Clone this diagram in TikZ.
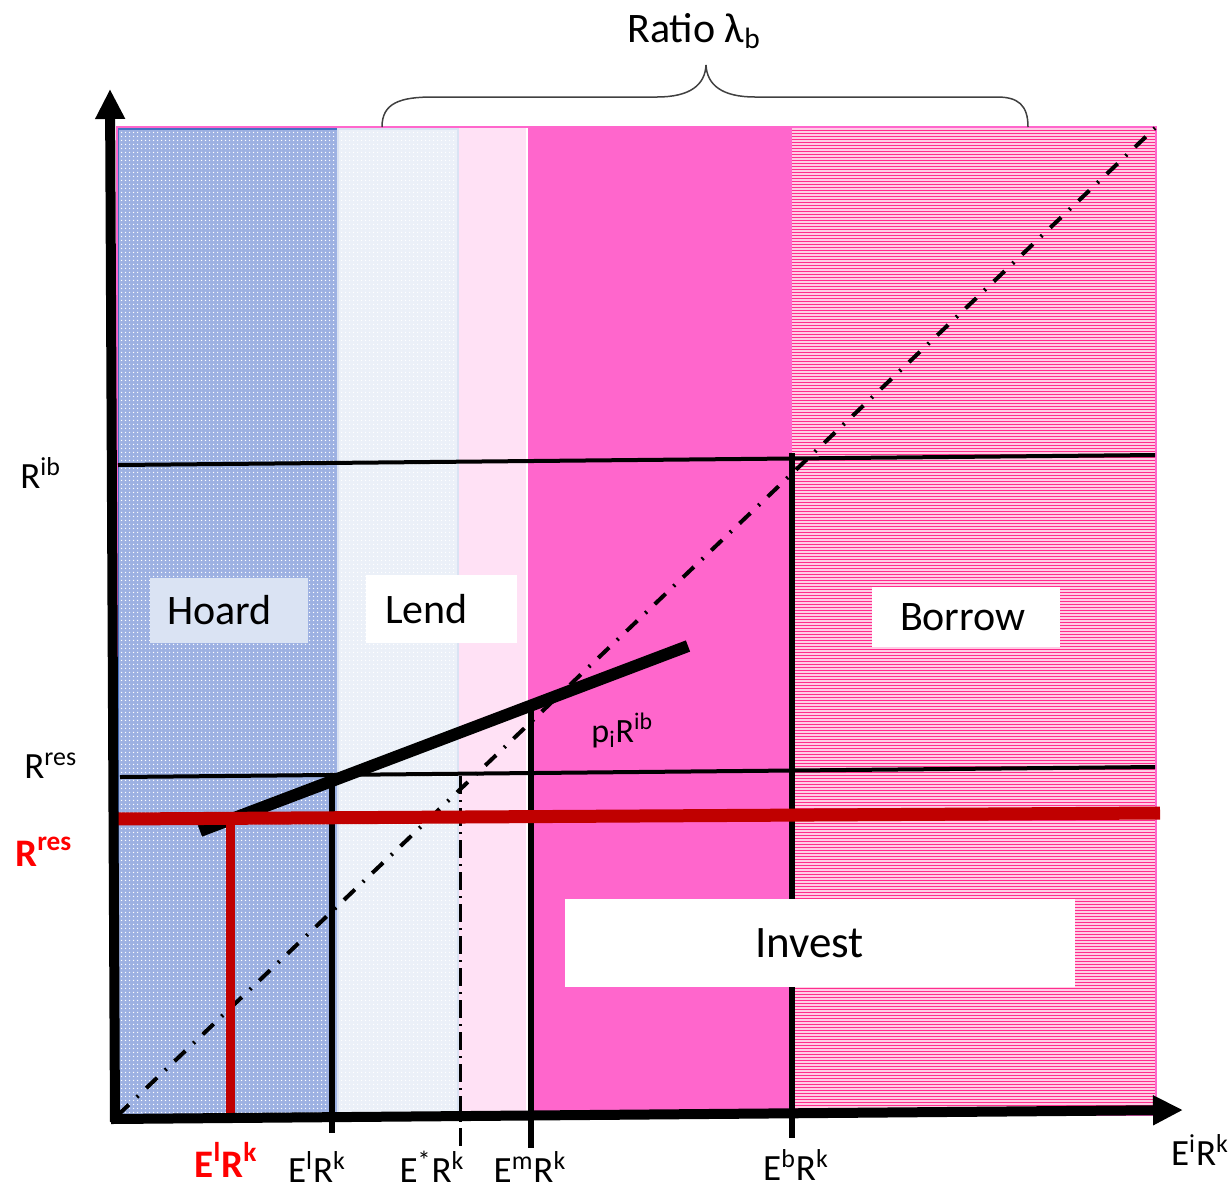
\documentclass[tikz,border=0pt]{standalone}
\usepackage{fontspec}
\setmainfont{Carlito}
\usepackage{tikz}
\usetikzlibrary{arrows.meta, patterns}

\definecolor{hoardblue}{HTML}{9DB1E2}
\definecolor{hoardline}{HTML}{4472C4}
\definecolor{lendblue}{HTML}{EBF0F8}
\definecolor{lendline}{HTML}{DAE3F3}
\definecolor{tagblue}{HTML}{DAE3F3}
\definecolor{palepink}{HTML}{FFE1F5}
\definecolor{hotpink}{HTML}{FF66CC}
\definecolor{stripebg}{HTML}{FFCCE5}
\definecolor{stripe}{HTML}{FF2D8C}
\definecolor{darkred}{HTML}{C00000}
\definecolor{bracegray}{HTML}{404040}

\pgfdeclarepatternformonly{finedots}{\pgfpointorigin}{\pgfpoint{2pt}{2pt}}{\pgfpoint{2pt}{2pt}}%
  {\pgfpathcircle{\pgfpoint{1pt}{1pt}}{0.45pt}\pgfusepath{fill}}

\begin{document}
\begin{tikzpicture}[
  x=0.5pt, y=-0.5pt,
  lbl/.style={font=\fontsize{18.5}{22}\selectfont, inner sep=0pt},
  redlbl/.style={inner sep=0pt, text=red, font=\fontsize{19.5}{23}\selectfont\bfseries},
  tagbox/.style={font=\fontsize{21}{25}\selectfont, inner ysep=0pt, align=left},
  axis/.style={line width=5pt, -{Triangle[length=15pt, width=14pt]}},
  level/.style={line width=2pt},
  tick/.style={line width=3pt}
]
\useasboundingbox (0,0) rectangle (1230,1189);

% regions
\fill[hoardblue] (118,128) rectangle (337,1115);
\fill[pattern=finedots, pattern color=white] (118,128) rectangle (337,1115);
\draw[hoardline, line width=1pt] (118,1115) -- (118,129) -- (337,129);
\fill[lendblue] (338,128) rectangle (459,1115);
\fill[pattern=finedots, pattern color=white] (338,128) rectangle (459,1115);
\draw[lendline, line width=1pt] (338,129) rectangle (458,1115);
\fill[palepink] (459,128) rectangle (526,1115);
\fill[hotpink] (528,127) rectangle (792,1115);
\fill[stripebg] (792,127) rectangle (1155,1115);
\foreach \yy in {130,133,...,1112}
  \draw[stripe, line width=0.5pt] (792,\yy) -- (1155,\yy);
\draw[hotpink, line width=1pt] (117,127) rectangle (1156,1115);

% brace and ratio
\draw[bracegray, line width=0.75pt] (382,127) .. controls (382,103) and (400,97) .. (433,97) -- (657,97)
  .. controls (690,97) and (705,85) .. (706,65) .. controls (707,85) and (722,97) .. (755,97) -- (997,97)
  .. controls (1018,97) and (1028,105) .. (1028,127);
\node[font=\fontsize{21}{25}\selectfont, inner sep=0pt, anchor=base] (ratio) at (694,42) {Ratio λ\textsubscript{b}};

% 45 degree line
\draw[line width=2pt, dash pattern=on 7.5pt off 5.5pt on 1pt off 5.5pt] (118,1115) -- (1155,128);

% rates
\draw[level] (118,465) -- (1155,455);
\draw[level] (120,777) -- (1155,767);
\draw[line width=6pt] (200,831) -- (688,646);

% thresholds
\draw[tick] (332,779) -- (332,1133);
\draw[line width=1.5pt, dash pattern=on 9pt off 3pt on 1pt off 3pt] (460,776) -- (460,1150);
\draw[tick] (531,706) -- (531,1148);
\draw[tick] (792,453) -- (792,1138);

% new reserve rate
\draw[darkred, line width=6.5pt] (114,819) -- (1160,813);
\draw[darkred, line width=4.5pt] (230,819) -- (230,1116);

% region tags
\node[tagbox, fill=tagblue, text width=62pt, inner xsep=8.5pt, minimum height=32.5pt] (hoard) at (229,610.5) {Hoard};
\node[tagbox, fill=white, text width=56.5pt, inner xsep=9.5pt, minimum height=34pt] (lend) at (441.5,609) {Lend};
\node[tagbox, fill=white, text width=66pt, inner xsep=14pt, minimum height=30pt] (borrow) at (966,617) {Borrow};
\node[tagbox, fill=white, font=\fontsize{22.5}{27}\selectfont, text width=65pt, inner xsep=95pt, minimum height=44pt] (invest) at (820,943) {Invest};
\node[lbl, font=\fontsize{17}{20}\selectfont, anchor=base west] (pirib) at (591,742) {p\textsubscript{i}R\textsuperscript{ib}};

% axes
\draw[axis] (115,1122) -- (110,89);
\draw[axis] (111,1119) -- (1183,1110);

% axis labels
\node[lbl, anchor=base west] (rib) at (20,488) {R\textsuperscript{ib}};
\node[lbl, anchor=base west] (rres) at (24,778) {R\textsuperscript{res}};
\node[redlbl, anchor=base west] (rresnew) at (15,866) {R\textsuperscript{res}};
\node[redlbl, anchor=base] (elnew) at (226,1177) {E\textsuperscript{l}R\textsuperscript{k}};
\node[lbl, anchor=base] (el) at (317,1182) {E\textsuperscript{l}R\textsuperscript{k}};
\node[lbl, anchor=base] (estar) at (432,1182) {E\textsuperscript{*}R\textsuperscript{k}};
\node[lbl, anchor=base] (em) at (530,1182) {E\textsuperscript{m}R\textsuperscript{k}};
\node[lbl, anchor=base] (eb) at (796,1180) {E\textsuperscript{b}R\textsuperscript{k}};
\node[lbl, anchor=base] (ei) at (1200,1165) {E\textsuperscript{i}R\textsuperscript{k}};
\end{tikzpicture}
\end{document}
